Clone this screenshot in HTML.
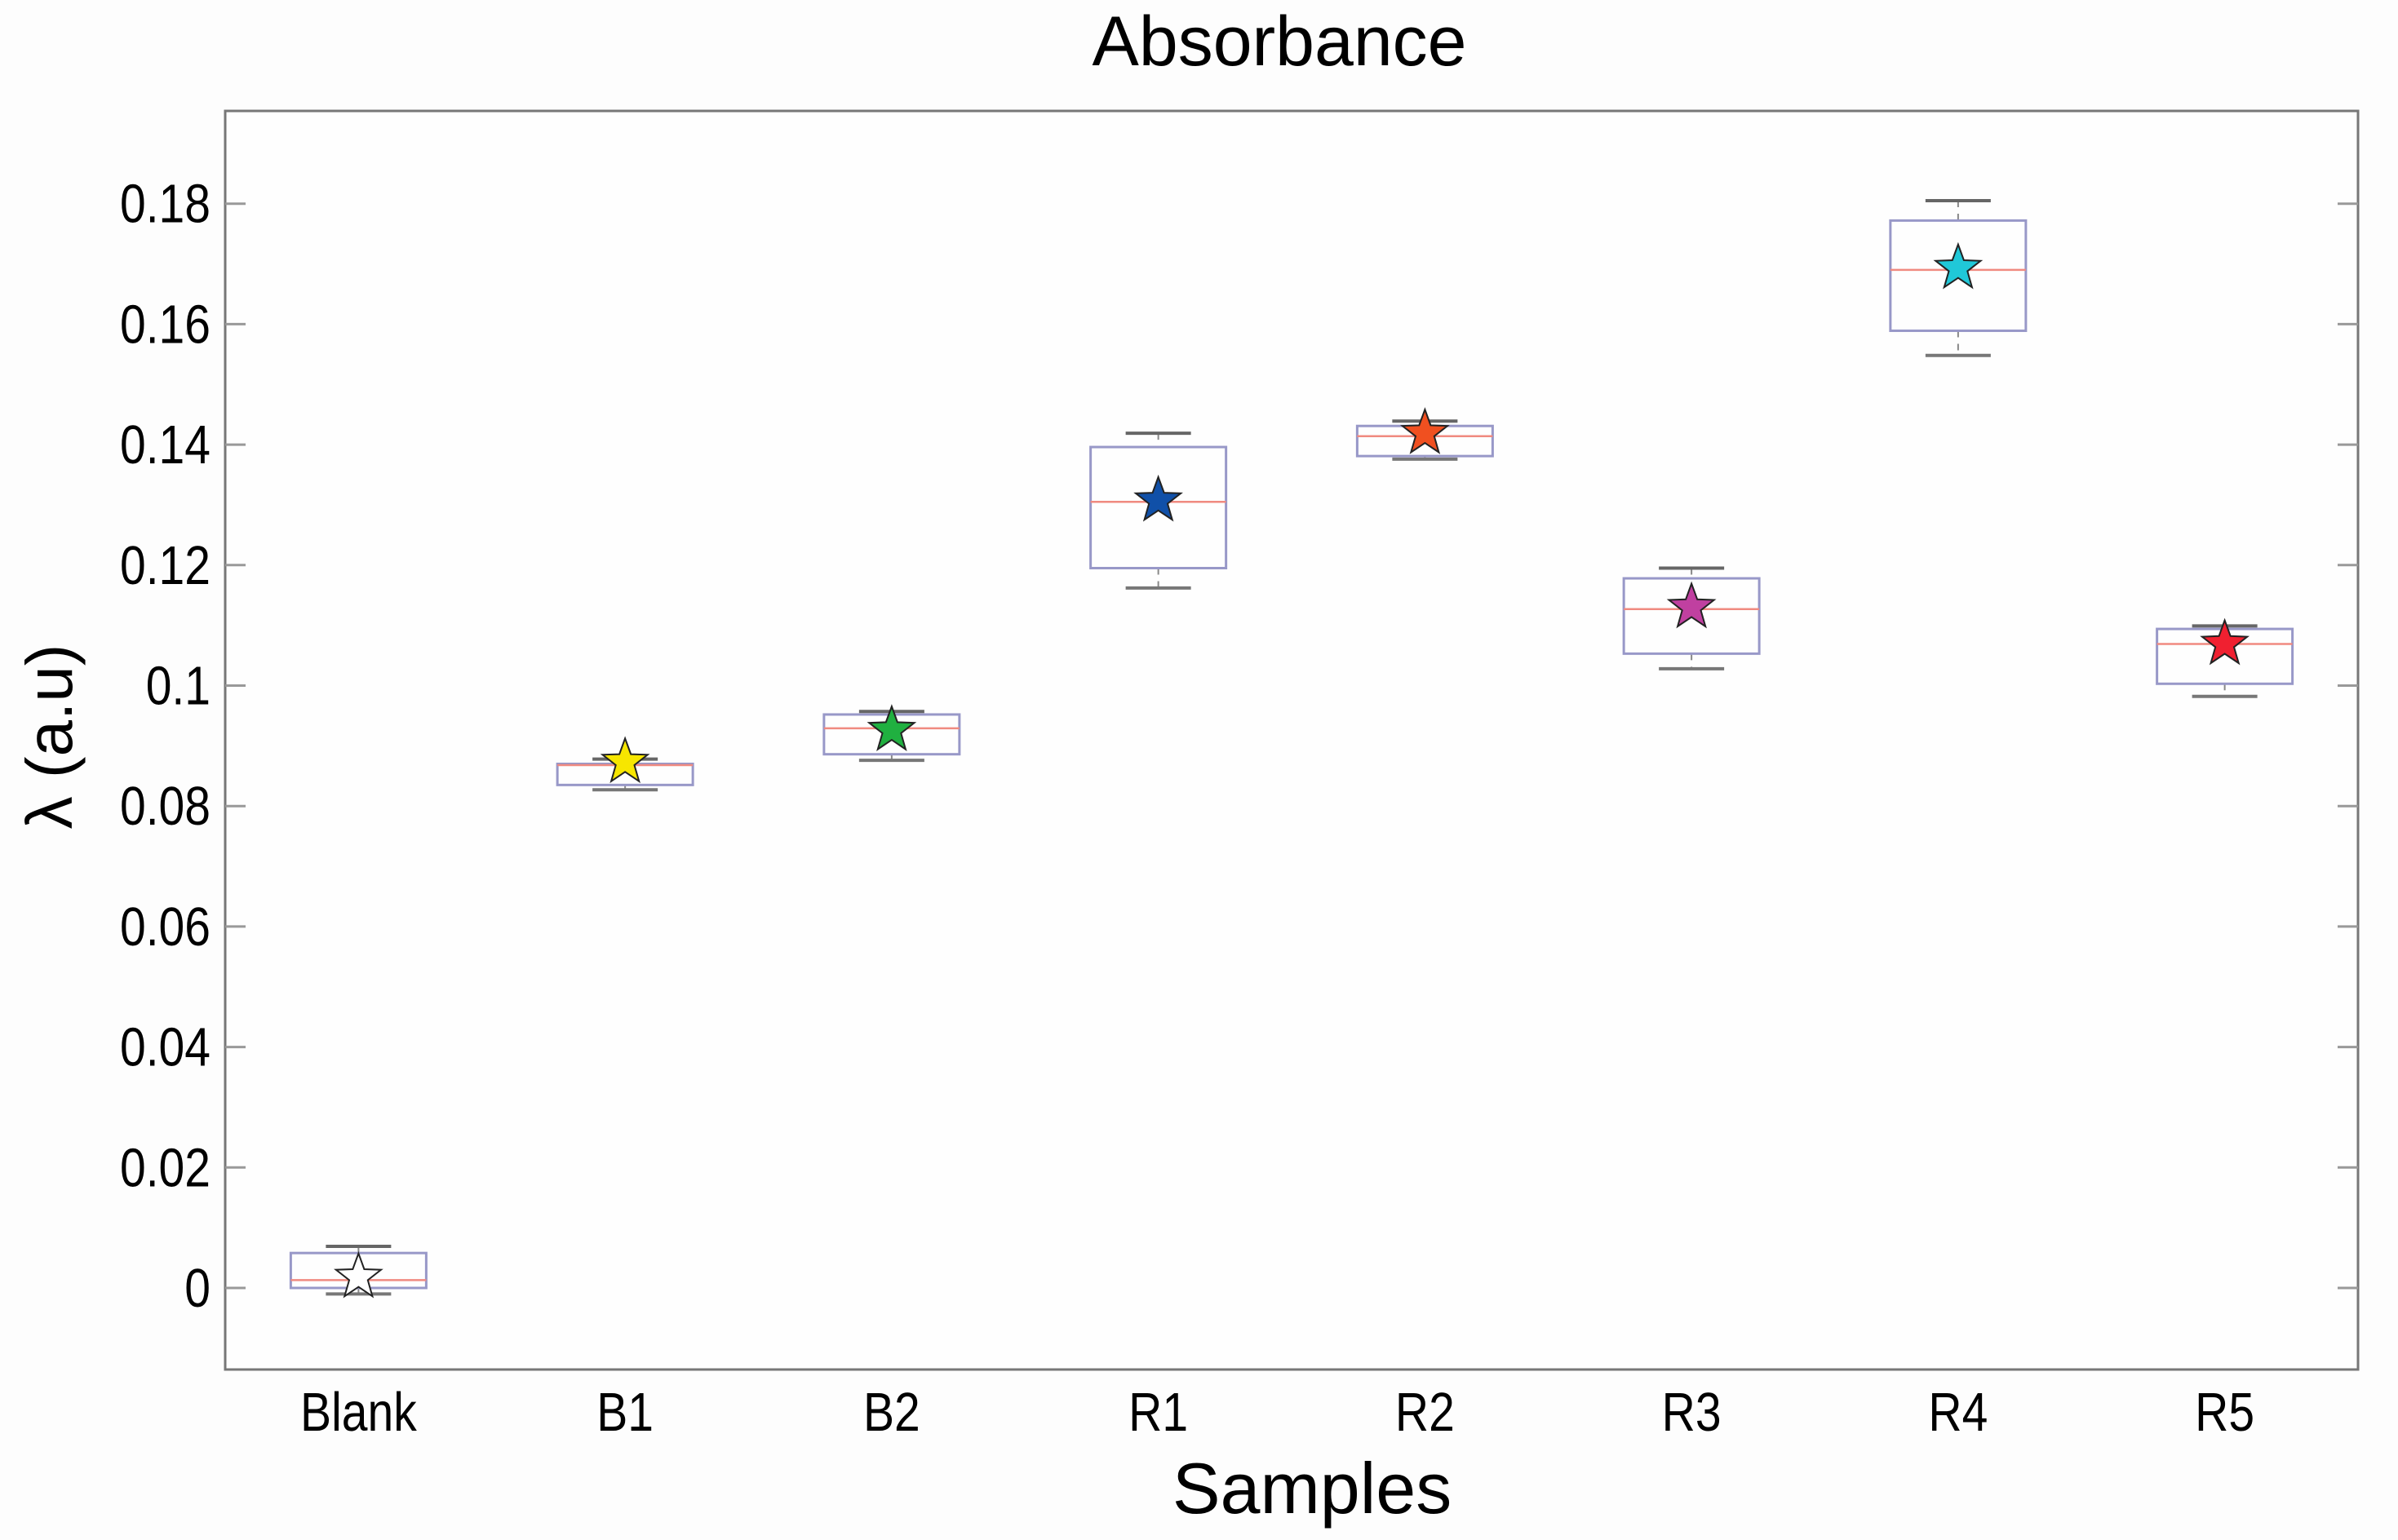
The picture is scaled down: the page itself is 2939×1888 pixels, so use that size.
<!DOCTYPE html>
<html><head><meta charset="utf-8"><style>
html,body{margin:0;padding:0;background:#fdfdfd;}
svg{display:block;font-family:"Liberation Sans",Arial,sans-serif;}
</style></head><body>
<svg id="chart" width="2939" height="1888" viewBox="0 0 2939 1888" xmlns="http://www.w3.org/2000/svg">
<rect x="0" y="0" width="2939" height="1888" fill="#fdfdfd"/>
<text x="1568" y="80" font-size="86" text-anchor="middle" fill="#000">Absorbance</text>
<text x="1608" y="1855" font-size="88" text-anchor="middle" fill="#000">Samples</text>
<text transform="translate(88,903) rotate(-90)" font-size="80" text-anchor="middle" fill="#000">λ (a.u)</text>
<g id="plot"></g>
</svg>
<script>
const categories = ["Blank","B1","B2","R1","R2","R3","R4","R5"];
const whiskerHigh = [0.0069,0.0878,0.0957,0.1419,0.1439,0.1195,0.1805,0.1099];
const q3Values    = [0.0058,0.0870,0.0952,0.1396,0.1431,0.1178,0.1772,0.1094];
const medianValues= [0.0013,0.0868,0.0929,0.1305,0.1414,0.1127,0.1690,0.1069];
const q1Values    = [0.0000,0.0835,0.0886,0.1195,0.1381,0.1053,0.1589,0.1003];
const whiskerLow  = [-0.0010,0.0827,0.0876,0.1162,0.1376,0.1028,0.1548,0.0982];
const meanValues  = [0.0018,0.0873,0.0926,0.1307,0.1419,0.1130,0.1693,0.1069];
const starColors  = ["#ffffff","#f7e600","#20b040","#1050a8","#f05020","#c040a0","#20c8d8","#f02030"];
const yTicks = [0,0.02,0.04,0.06,0.08,0.1,0.12,0.14,0.16,0.18];
const yTickLabels = ["0","0.02","0.04","0.06","0.08","0.1","0.12","0.14","0.16","0.18"];

const NS="http://www.w3.org/2000/svg";
const L=276,R=2890,T=136,B=1679;
function yScale(v){return 1579 - v*(147.7/0.02);}
function xScale(i){return L + (i+0.5)*(R-L)/categories.length;}
const g=document.getElementById('plot');
function mk(tag,attrs){const e=document.createElementNS(NS,tag);for(const k in attrs)e.setAttribute(k,attrs[k]);g.appendChild(e);return e;}

let fr=mk('rect',{x:L,y:T,width:R-L,height:B-T,fill:'#fefefe',stroke:'#777',"stroke-width":3});



yTicks.forEach((v,i)=>{
  const y=yScale(v);
  let t1=mk('line',{x1:L,x2:L+25,y1:y,y2:y,stroke:'#999',"stroke-width":3});
  
  
  let t2=mk('line',{x1:R-25,x2:R,y1:y,y2:y,stroke:'#999',"stroke-width":3});
  
  
  let tx=mk('text',{transform:'translate(258,'+(y+23)+') scale(0.92,1.08)',"font-size":62,"text-anchor":"end",fill:'#000'});
  tx.textContent=yTickLabels[i];
  
  
});

function starPath(cx,cy,ro,ri){let p=[];for(let k=0;k<10;k++){const r=k%2?ri:ro;const a=-Math.PI/2+k*Math.PI/5;p.push((cx+r*Math.cos(a)).toFixed(1)+','+(cy+r*Math.sin(a)).toFixed(1));}return 'M'+p.join('L')+'Z';}

categories.forEach((c,i)=>{
  const cx=xScale(i), bw=83, cw=40;
  let w1=mk('line',{x1:cx,x2:cx,y1:yScale(whiskerHigh[i]),y2:yScale(q3Values[i]),stroke:'#888',"stroke-width":2,"stroke-dasharray":"8,8"});
  
  
  let w2=mk('line',{x1:cx,x2:cx,y1:yScale(q1Values[i]),y2:yScale(whiskerLow[i]),stroke:'#888',"stroke-width":2,"stroke-dasharray":"8,8"});
  
  
  let c1=mk('line',{x1:cx-cw,x2:cx+cw,y1:yScale(whiskerHigh[i]),y2:yScale(whiskerHigh[i]),stroke:'#666',"stroke-width":4});
  
  
  let c2=mk('line',{x1:cx-cw,x2:cx+cw,y1:yScale(whiskerLow[i]),y2:yScale(whiskerLow[i]),stroke:'#777',"stroke-width":4});
  
  
  let bx=mk('rect',{x:cx-bw,y:yScale(q3Values[i]),width:2*bw,height:yScale(q1Values[i])-yScale(q3Values[i]),fill:'none',stroke:'#9898c8',"stroke-width":3});
  
  
  let md=mk('line',{x1:cx-bw,x2:cx+bw,y1:yScale(medianValues[i]),y2:yScale(medianValues[i]),stroke:'#f08a80',"stroke-width":2.5});
  
  
  let st=mk('path',{d:starPath(cx,yScale(meanValues[i]),29,12),fill:starColors[i],stroke:'#222',"stroke-width":2});
  
  
  let xl=mk('text',{transform:'translate('+cx+',1754) scale(0.92,1.08)',"font-size":62,"text-anchor":"middle",fill:'#000'});
  xl.textContent=c;
  
  
});
</script>
</body></html>
